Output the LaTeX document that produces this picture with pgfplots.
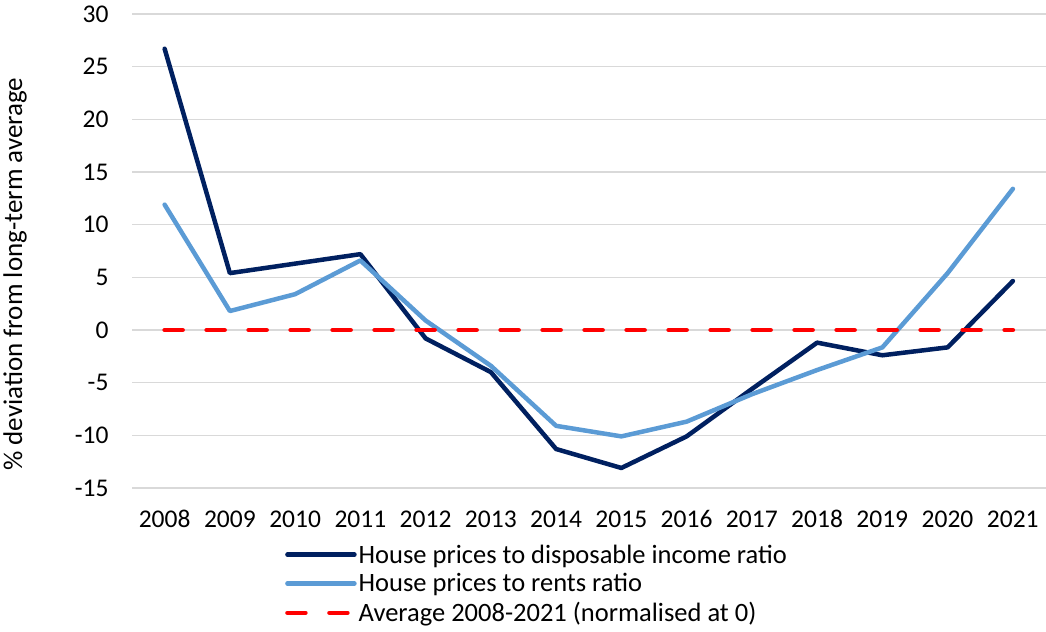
\documentclass[border=0pt]{standalone}
\usepackage{pgfplots}
\pgfplotsset{compat=1.18}
\usepackage{fontspec}
\setmainfont{Carlito}

\definecolor{darkblue}{HTML}{002060}
\definecolor{lightblue}{HTML}{5B9BD5}
\definecolor{gridgray}{HTML}{D9D9D9}

\begin{document}
\begin{tikzpicture}
\path[use as bounding box] (0,0) rectangle (1046bp,632bp);
\begin{axis}[
    at={(132bp,144bp)}, anchor=south west,
    scale only axis,
    width=913.5bp, height=474bp,
    xmin=2007.5, xmax=2021.5,
    ymin=-15, ymax=30,
    xtick={2008,...,2021},
    ytick={-15,-10,...,30},
    /pgf/number format/1000 sep={},
    /pgf/number format/assume math mode=true,
    axis line style={draw=none},
    major tick length=0pt,
    ymajorgrids=true,
    grid style={gridgray, line width=1.3bp},
    tick label style={font=\fontsize{25.5bp}{30bp}\selectfont},
    yticklabel style={xshift=-20bp},
    xticklabel style={yshift=-19bp},
    ylabel={\% deviation from long-term average},
    every axis y label/.style={at={(axis description cs:-0.128,0.451)}, rotate=90, anchor=center,
        font=\fontsize{27bp}{31bp}\selectfont},
    legend style={at={(axis description cs:0.1675,-0.115)}, anchor=north west,
        draw=none, fill=none, inner sep=0pt, row sep=5bp,
        font=\fontsize{26.5bp}{31bp}\selectfont,
        cells={anchor=west}},
    legend image code/.code={\draw[#1] (0bp,0bp) -- (67bp,0bp);},
    legend cell align=left,
]
\addplot[darkblue, line width=4.5bp, line join=round, line cap=round] coordinates {
(2008,26.7)(2009,5.4)(2010,6.3)(2011,7.2)(2012,-0.8)(2013,-4.0)(2014,-11.3)
(2015,-13.1)(2016,-10.1)(2017,-5.6)(2018,-1.2)(2019,-2.4)(2020,-1.65)(2021,4.65)};
\addlegendentry{House prices to disposable income ratio}
\addplot[lightblue, line width=4.5bp, line join=round, line cap=round] coordinates {
(2008,11.9)(2009,1.8)(2010,3.4)(2011,6.6)(2012,0.9)(2013,-3.4)(2014,-9.1)
(2015,-10.1)(2016,-8.7)(2017,-6.1)(2018,-3.8)(2019,-1.65)(2020,5.4)(2021,13.4)};
\addlegendentry{House prices to rents ratio}
\addplot[red, line width=4.5bp, line cap=round, dash pattern=on 18bp off 24bp] coordinates {
(2008,0)(2009,0)(2010,0)(2011,0)(2012,0)(2013,0)(2014,0)
(2015,0)(2016,0)(2017,0)(2018,0)(2019,0)(2020,0)(2021,0)};
\addlegendentry{Average 2008-2021 (normalised at 0)}
\end{axis}
\end{tikzpicture}
\end{document}
